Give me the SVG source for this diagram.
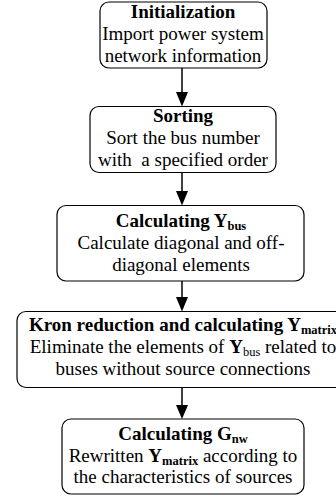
<svg xmlns="http://www.w3.org/2000/svg" width="336" height="497" viewBox="0 0 336 497">
<style>
.box{fill:#fff;stroke:#000;stroke-width:1.2}
.t text{font-size:19px;fill:#000;text-anchor:middle}
.b{font-weight:bold}
.sub{font-size:12.5px;font-weight:bold}
.subn{font-size:12.5px}
.conn line{stroke:#000;stroke-width:1.5}
.conn path{fill:#000}
</style>
<g class="conn">
<line x1="182" y1="68" x2="182" y2="93"/>
<path d="M176,92 L188,92 L182,106.5 Z"/>
<line x1="182" y1="172.5" x2="182" y2="192"/>
<path d="M176,191 L188,191 L182,205.5 Z"/>
<line x1="182" y1="281" x2="182" y2="298"/>
<path d="M176,297 L188,297 L182,311.5 Z"/>
<line x1="182" y1="387.5" x2="182" y2="406"/>
<path d="M176,405 L188,405 L182,419 Z"/>
</g>
<g class="t" font-family="Liberation Serif, Times New Roman, serif">
<g id="n1">
<rect class="box" x="100" y="2" width="167" height="66" rx="9"/>
<text x="183" y="18" class="b">Initialization</text>
<text x="183" y="40">Import power system</text>
<text x="183" y="62">network information</text>
</g>
<g id="n2">
<rect class="box" x="90" y="106.5" width="186" height="66" rx="9"/>
<text x="183" y="122" class="b">Sorting</text>
<text x="183" y="144">Sort the bus number</text>
<text x="183" y="166" xml:space="preserve">with  a specified order</text>
</g>
<g id="n3">
<rect class="box" x="57" y="205.5" width="247" height="75.5" rx="9"/>
<text x="181" y="227" class="b">Calculating Y<tspan class="sub" dy="3">bus</tspan></text>
<text x="181" y="249">Calculate diagonal and off-</text>
<text x="181" y="271">diagonal elements</text>
</g>
<g id="n4">
<rect class="box" x="17" y="311.5" width="333" height="76" rx="9"/>
<text x="183" y="331" class="b">Kron reduction and calculating Y<tspan class="sub" dy="3">matrix</tspan></text>
<text x="183" y="353">Eliminate the elements of <tspan class="b">Y</tspan><tspan class="subn" dy="3">bus</tspan><tspan dy="-3"> related to</tspan></text>
<text x="183" y="375">buses without source connections</text>
</g>
<g id="n5">
<rect class="box" x="62" y="419" width="242" height="75" rx="9"/>
<text x="183" y="439.5" class="b">Calculating G<tspan class="sub" dy="3">nw</tspan></text>
<text x="183" y="461.5">Rewritten <tspan class="b">Y</tspan><tspan class="sub" dy="3">matrix</tspan><tspan dy="-3"> according to</tspan></text>
<text x="183" y="483">the characteristics of sources</text>
</g>
</g>
</svg>
